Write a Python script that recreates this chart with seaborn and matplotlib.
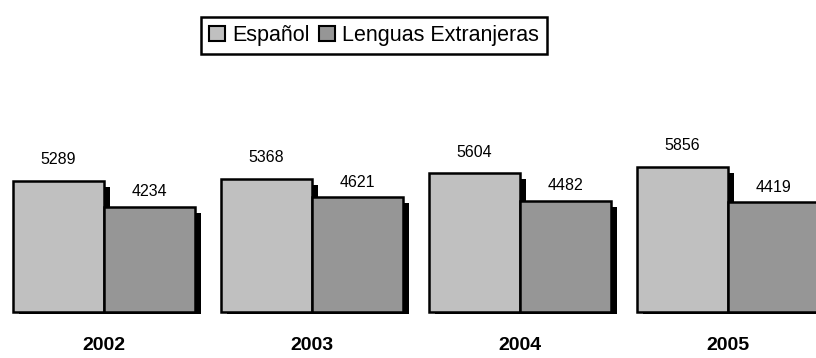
import matplotlib
matplotlib.use("Agg")
import matplotlib.pyplot as plt
from matplotlib.patches import Rectangle, Patch
import seaborn as sns
import pandas as pd

years = ["2002", "2003", "2004", "2005"]
espanol = [5289, 5368, 5604, 5856]
extranjeras = [4234, 4621, 4482, 4419]
series = ["Español", "Lenguas Extranjeras"]
colors = ["#C0C0C0", "#969696"]


def build_frame():
    rows = []
    for name, vals in zip(series, [espanol, extranjeras]):
        for y, v in zip(years, vals):
            rows.append({"year": y, "serie": name, "value": v})
    return pd.DataFrame(rows)


def plot_chart(df, save_path="out.png"):
    sns.set_style("white")
    plt.rcParams["font.family"] = ["Liberation Sans", "DejaVu Sans"]
    plt.rcParams["text.color"] = "black"

    fig = plt.figure(figsize=(8.16, 3.58), dpi=100)
    ax = fig.add_axes([0, 0, 1, 1])

    sns.barplot(
        data=df, x="year", y="value", hue="serie",
        palette=colors, width=0.875, saturation=1,
        edgecolor="black", linewidth=1.8, legend=False, ax=ax,
    )

    # pixel -> data scale
    px_x = 1 / 208.0
    px_y = 40.5
    ax.set_xlim(-103.5 * px_x, (816 - 103.5) * px_x)
    ax.set_ylim(-(358 - 311.5) * px_y, 311.5 * px_y)
    ax.set_axis_off()

    # drop shadows
    for cont in ax.containers:
        for bar in cont:
            x = bar.get_x()
            w = bar.get_width()
            h = bar.get_height()
            shadow = Rectangle(
                (x + 6 * px_x, -2.5 * px_y), w, h - 6 * px_y + 2.5 * px_y,
                facecolor="black", edgecolor="none", zorder=0.5,
            )
            ax.add_patch(shadow)

    # value labels
    offsets = [21, 15]
    for cont, off in zip(ax.containers, offsets):
        for bar in cont:
            h = bar.get_height()
            ax.text(bar.get_x() + bar.get_width() / 2, h + off * px_y,
                    f"{int(h)}", ha="center", va="center", fontsize=11.5,
                    color="black")

    # year labels
    for i, y in enumerate(years):
        ax.text(i, -(346 - 311.5) * px_y, y, ha="center", va="center",
                fontsize=14, fontweight="bold", color="black")

    handles = [Patch(facecolor=c, edgecolor="black", linewidth=1.5) for c in colors]
    leg = fig.legend(
        handles, series, loc="center", bbox_to_anchor=(374 / 816, 1 - 35.5 / 358),
        ncol=2, fontsize=15.5, frameon=True, fancybox=False,
        handlelength=0.74, handleheight=0.74, handletextpad=0.33,
        columnspacing=0.47, borderpad=0.35, borderaxespad=0,
    )
    for t in leg.get_texts():
        t.set_color("black")
    frame = leg.get_frame()
    frame.set_edgecolor("black")
    frame.set_linewidth(1.8)
    frame.set_alpha(1)

    fig.savefig(save_path, dpi=100, facecolor="white")


def main():
    df = build_frame()
    plot_chart(df)


if __name__ == "__main__":
    main()
